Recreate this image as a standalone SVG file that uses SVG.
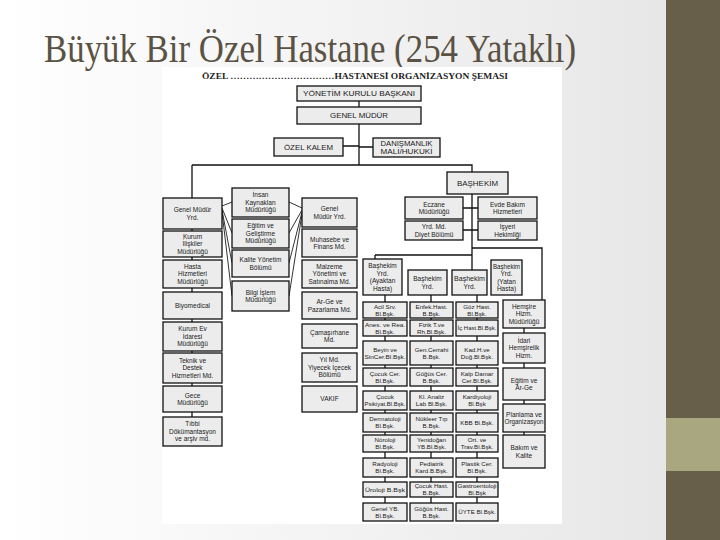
<svg xmlns="http://www.w3.org/2000/svg" width="720" height="540" viewBox="0 0 720 540">
<defs>
<linearGradient id="bg" x1="0" y1="0" x2="1" y2="0">
<stop offset="0" stop-color="#ffffff"/>
<stop offset="1" stop-color="#e7e7e7"/>
</linearGradient>
<style>
.b{fill:#ececec;stroke:#111;stroke-width:1.3}
.t{font-family:"Liberation Sans",Arial,sans-serif;font-size:6.5px;fill:#1a1a1a;text-anchor:middle}
.g{font-size:6.2px}
.c{fill:none;stroke:#111;stroke-width:1.3}
.f{fill:none;stroke:#1c1c1c;stroke-width:0.9}
</style>
</defs>
<rect x="0" y="0" width="666" height="540" fill="url(#bg)"/>
<rect x="666" y="0" width="54" height="540" fill="#675f49"/>
<rect x="666" y="418" width="54" height="53" fill="#a9a77f"/>
<text x="44" y="62" font-family="Liberation Serif, serif" font-size="41" fill="#5a5244" textLength="532" lengthAdjust="spacingAndGlyphs">Büyük Bir Özel Hastane (254 Yataklı)</text>
<rect x="162" y="67" width="400" height="457" fill="#ffffff"/>
<text x="355" y="79" font-family="Liberation Serif, serif" font-size="7.5" font-weight="bold" fill="#222" text-anchor="middle" textLength="306" lengthAdjust="spacingAndGlyphs">ÖZEL ……………………………HASTANESİ ORGANİZASYON ŞEMASI</text>

<g id="connectors">
<path class="c" d="M359,101V107 M359,124V165 M343,146H359 M359,147H373 M192,165H472V172 M192,165V417 M472,194V270 M375,255H472 M375,255V259 M472,248H542V300 M463,208H478 M463,230H478 M385,295V503 M431,295V503 M477,295V503 M524,300V435"/>
<path class="f" d="M222,206L232,202 M222,208L232,233 M222,210L232,263 M222,212L232,296 M302,208L289,202 M302,210L289,233 M302,212L289,263 M302,214L289,296"/>
</g>

<g id="n-ykb"><rect class="b" x="297" y="86" width="124" height="15"/><text class="t" x="359" y="96" textLength="112" lengthAdjust="spacingAndGlyphs">YÖNETİM KURULU BAŞKANI</text></g>
<g id="n-gm"><rect class="b" x="297" y="107" width="124" height="17"/><text class="t" x="359" y="118" textLength="58" lengthAdjust="spacingAndGlyphs">GENEL MÜDÜR</text></g>
<g id="n-ozk"><rect class="b" x="274" y="138" width="69" height="18"/><text class="t" x="308.5" y="149.5" textLength="49" lengthAdjust="spacingAndGlyphs">ÖZEL KALEM</text></g>
<g id="n-dan"><rect class="b" x="373" y="138" width="67" height="19"/><text class="t" x="406.5" y="145.5" textLength="52" lengthAdjust="spacingAndGlyphs">DANIŞMANLIK</text><text class="t" x="406.5" y="153.5" textLength="52" lengthAdjust="spacingAndGlyphs">MALİ/HUKUKİ</text></g>
<g id="n-bas"><rect class="b" x="447" y="172" width="61" height="22"/><text class="t" x="477.5" y="185.5" textLength="41" lengthAdjust="spacingAndGlyphs">BAŞHEKİM</text></g>

<g id="n-gmy1"><rect class="b" x="163" y="198" width="59" height="31"/><text class="t" x="192.5" y="212">Genel Müdür</text><text class="t" x="192.5" y="219.5">Yrd.</text></g>
<g id="n-kil"><rect class="b" x="163" y="231" width="59" height="26"/><text class="t" x="192.5" y="238.8">Kurum</text><text class="t" x="192.5" y="246.3">İlişkiler</text><text class="t" x="192.5" y="253.8">Müdürlüğü</text></g>
<g id="n-hhm"><rect class="b" x="163" y="260" width="59" height="28"/><text class="t" x="192.5" y="268.8">Hasta</text><text class="t" x="192.5" y="276.3">Hizmetleri</text><text class="t" x="192.5" y="283.8">Müdürlüğü</text></g>
<g id="n-biyo"><rect class="b" x="163" y="292" width="59" height="27"/><text class="t" x="192.5" y="307.8">Biyomedical</text></g>
<g id="n-kev"><rect class="b" x="163" y="322" width="59" height="29"/><text class="t" x="192.5" y="331.3">Kurum Ev</text><text class="t" x="192.5" y="338.8">İdaresi</text><text class="t" x="192.5" y="346.3">Müdürlüğü</text></g>
<g id="n-tdh"><rect class="b" x="163" y="353" width="59" height="30"/><text class="t" x="192.5" y="362.8">Teknik ve</text><text class="t" x="192.5" y="370.3">Destek</text><text class="t" x="192.5" y="377.8">Hizmetleri Md.</text></g>
<g id="n-gece"><rect class="b" x="163" y="386" width="59" height="26"/><text class="t" x="192.5" y="397.5">Gece</text><text class="t" x="192.5" y="405">Müdürlüğü</text></g>
<g id="n-tibbi"><rect class="b" x="163" y="417" width="59" height="29"/><text class="t" x="192.5" y="426.3">Tıbbi</text><text class="t" x="192.5" y="433.8">Dökümantasyon</text><text class="t" x="192.5" y="441.3">ve arşiv md.</text></g>

<g id="n-ik"><rect class="b" x="232" y="188" width="57" height="29"/><text class="t" x="260.5" y="197.3">İnsan</text><text class="t" x="260.5" y="204.8">Kaynakları</text><text class="t" x="260.5" y="212.3">Müdürlüğü</text></g>
<g id="n-egm"><rect class="b" x="232" y="219" width="57" height="29"/><text class="t" x="260.5" y="228.3">Eğitim ve</text><text class="t" x="260.5" y="235.8">Geliştirme</text><text class="t" x="260.5" y="243.3">Müdürlüğü</text></g>
<g id="n-kal"><rect class="b" x="232" y="250" width="57" height="27"/><text class="t" x="260.5" y="262">Kalite Yönetim</text><text class="t" x="260.5" y="269.5">Bölümü</text></g>
<g id="n-bil"><rect class="b" x="232" y="281" width="57" height="30"/><text class="t" x="260.5" y="294.5">Bilgi İşlem</text><text class="t" x="260.5" y="302">Müdürlüğü</text></g>

<g id="n-gmy2"><rect class="b" x="302" y="198" width="55" height="29"/><text class="t" x="329.5" y="211">Genel</text><text class="t" x="329.5" y="218.5">Müdür Yrd.</text></g>
<g id="n-muh"><rect class="b" x="302" y="229" width="55" height="28"/><text class="t" x="329.5" y="241.5">Muhasebe ve</text><text class="t" x="329.5" y="249">Finans Md.</text></g>
<g id="n-mal"><rect class="b" x="302" y="260" width="55" height="28"/><text class="t" x="329.5" y="268.8">Malzeme</text><text class="t" x="329.5" y="276.3">Yönetimi ve</text><text class="t" x="329.5" y="283.8">Satınalma Md.</text></g>
<g id="n-arge"><rect class="b" x="302" y="292" width="55" height="27"/><text class="t" x="329.5" y="304">Ar-Ge ve</text><text class="t" x="329.5" y="311.5">Pazarlama Md.</text></g>
<g id="n-cam"><rect class="b" x="302" y="324" width="55" height="24"/><text class="t" x="329.5" y="334.5">Çamaşırhane</text><text class="t" x="329.5" y="342">Md.</text></g>
<g id="n-yiy"><rect class="b" x="302" y="353" width="55" height="29"/><text class="t" x="329.5" y="362.3">Yıl Md.</text><text class="t" x="329.5" y="369.8">Yiyecek İçecek</text><text class="t" x="329.5" y="377.3">Bölümü</text></g>
<g id="n-vak"><rect class="b" x="302" y="386" width="55" height="26"/><text class="t" x="329.5" y="401.3">VAKIF</text></g>

<g id="n-ecz"><rect class="b" x="405" y="197" width="58" height="22"/><text class="t" x="434" y="206.5">Eczane</text><text class="t" x="434" y="214">Müdürlüğü</text></g>
<g id="n-evde"><rect class="b" x="478" y="197" width="59" height="22"/><text class="t" x="507.5" y="206.5">Evde Bakım</text><text class="t" x="507.5" y="214">Hizmetleri</text></g>
<g id="n-diy"><rect class="b" x="405" y="221" width="58" height="19"/><text class="t" x="434" y="229">Yrd. Md.</text><text class="t" x="434" y="236.5">Diyet Bölümü</text></g>
<g id="n-isy"><rect class="b" x="478" y="221" width="59" height="19"/><text class="t" x="507.5" y="229">İşyeri</text><text class="t" x="507.5" y="236.5">Hekimliği</text></g>

<g id="n-by1"><rect class="b" x="363" y="259" width="39" height="36"/><text class="t" x="382.5" y="268">Başhekim</text><text class="t" x="382.5" y="275.5">Yrd.</text><text class="t" x="382.5" y="283">(Ayaktan</text><text class="t" x="382.5" y="290.5">Hasta)</text></g>
<g id="n-by2"><rect class="b" x="408" y="270" width="39" height="25"/><text class="t" x="427.5" y="281">Başhekim</text><text class="t" x="427.5" y="288.5">Yrd.</text></g>
<g id="n-by3"><rect class="b" x="452" y="270" width="35" height="25"/><text class="t" x="469.5" y="281" textLength="31" lengthAdjust="spacingAndGlyphs">Başhekim</text><text class="t" x="469.5" y="288.5">Yrd.</text></g>
<g id="n-by4"><rect class="b" x="491" y="260" width="31" height="35"/><text class="t" x="506.5" y="268.5" textLength="27" lengthAdjust="spacingAndGlyphs">Başhekim</text><text class="t" x="506.5" y="276">Yrd.</text><text class="t" x="506.5" y="283.5">(Yatan</text><text class="t" x="506.5" y="291">Hasta)</text></g>

<g id="n-r1c1"><rect class="b" x="363" y="302" width="44" height="16"/><text class="t g" x="385" y="308.8">Acil Srv.</text><text class="t g" x="385" y="315.8">Bl.Bşk.</text></g>
<g id="n-r1c2"><rect class="b" x="410" y="302" width="43" height="16"/><text class="t g" x="431.5" y="308.8">Enfek.Hast.</text><text class="t g" x="431.5" y="315.8">B.Bşk.</text></g>
<g id="n-r1c3"><rect class="b" x="456" y="302" width="42" height="16"/><text class="t g" x="477" y="308.8">Göz Hast.</text><text class="t g" x="477" y="315.8">Bl.Bşk.</text></g>
<g id="n-r2c1"><rect class="b" x="363" y="320" width="44" height="16"/><text class="t g" x="385" y="326.8" textLength="40" lengthAdjust="spacingAndGlyphs">Anes. ve Rea.</text><text class="t g" x="385" y="333.8">Bl.Bşk.</text></g>
<g id="n-r2c2"><rect class="b" x="410" y="320" width="43" height="16"/><text class="t g" x="431.5" y="326.8">Fizik T.ve</text><text class="t g" x="431.5" y="333.8">Rh.Bl.Bşk.</text></g>
<g id="n-r2c3"><rect class="b" x="456" y="320" width="42" height="16"/><text class="t g" x="477" y="330.3" textLength="39" lengthAdjust="spacingAndGlyphs">İç Hast.Bl.Bşk.</text></g>
<g id="n-r3c1"><rect class="b" x="363" y="341" width="44" height="24"/><text class="t g" x="385" y="351.8">Beyin ve</text><text class="t g" x="385" y="358.8" textLength="41" lengthAdjust="spacingAndGlyphs">SinCer.Bl.Bşk.</text></g>
<g id="n-r3c2"><rect class="b" x="410" y="341" width="43" height="24"/><text class="t g" x="431.5" y="351.8">Gen.Cerrahi</text><text class="t g" x="431.5" y="358.8">B.Bşk.</text></g>
<g id="n-r3c3"><rect class="b" x="456" y="341" width="42" height="24"/><text class="t g" x="477" y="351.8">Kad.H.ve</text><text class="t g" x="477" y="358.8">Doğ.Bl.Bşk.</text></g>
<g id="n-r4c1"><rect class="b" x="363" y="368" width="44" height="18"/><text class="t g" x="385" y="375.8">Çocuk Cer.</text><text class="t g" x="385" y="382.8">Bl.Bşk.</text></g>
<g id="n-r4c2"><rect class="b" x="410" y="368" width="43" height="18"/><text class="t g" x="431.5" y="375.8">Göğüs Cer.</text><text class="t g" x="431.5" y="382.8">B.Bşk.</text></g>
<g id="n-r4c3"><rect class="b" x="456" y="368" width="42" height="18"/><text class="t g" x="477" y="375.8">Kalp Damar</text><text class="t g" x="477" y="382.8">Cer.Bl.Bşk.</text></g>
<g id="n-r5c1"><rect class="b" x="363" y="391" width="44" height="19"/><text class="t g" x="385" y="399.3">Çocuk</text><text class="t g" x="385" y="406.3" textLength="41" lengthAdjust="spacingAndGlyphs">Psikiyat.Bl.Bşk.</text></g>
<g id="n-r5c2"><rect class="b" x="410" y="391" width="43" height="19"/><text class="t g" x="431.5" y="399.3">Kl. Analiz</text><text class="t g" x="431.5" y="406.3">Lab Bl.Bşk.</text></g>
<g id="n-r5c3"><rect class="b" x="456" y="391" width="42" height="19"/><text class="t g" x="477" y="399.3">Kardiyoloji</text><text class="t g" x="477" y="406.3">Bl.Bşk</text></g>
<g id="n-r6c1"><rect class="b" x="363" y="413" width="44" height="19"/><text class="t g" x="385" y="421.3">Dermatoloji</text><text class="t g" x="385" y="428.3">Bl.Bşk.</text></g>
<g id="n-r6c2"><rect class="b" x="410" y="413" width="43" height="19"/><text class="t g" x="431.5" y="421.3">Nükleer Tıp</text><text class="t g" x="431.5" y="428.3">B.Bşk.</text></g>
<g id="n-r6c3"><rect class="b" x="456" y="413" width="42" height="19"/><text class="t g" x="477" y="424.8">KBB Bl.Bşk.</text></g>
<g id="n-r7c1"><rect class="b" x="363" y="435" width="44" height="17"/><text class="t g" x="385" y="442.3">Nöroloji</text><text class="t g" x="385" y="449.3">Bl.Bşk.</text></g>
<g id="n-r7c2"><rect class="b" x="410" y="435" width="43" height="17"/><text class="t g" x="431.5" y="442.3">Yenidoğan</text><text class="t g" x="431.5" y="449.3">YB.Bl.Bşk.</text></g>
<g id="n-r7c3"><rect class="b" x="456" y="435" width="42" height="17"/><text class="t g" x="477" y="442.3">Ort. ve</text><text class="t g" x="477" y="449.3">Trav.Bl.Bşk.</text></g>
<g id="n-r8c1"><rect class="b" x="363" y="458" width="44" height="19"/><text class="t g" x="385" y="466.3">Radyoloji</text><text class="t g" x="385" y="473.3">Bl.Bşk.</text></g>
<g id="n-r8c2"><rect class="b" x="410" y="458" width="43" height="19"/><text class="t g" x="431.5" y="466.3">Pediatrik</text><text class="t g" x="431.5" y="473.3">Kard.B.Bşk.</text></g>
<g id="n-r8c3"><rect class="b" x="456" y="458" width="42" height="19"/><text class="t g" x="477" y="466.3">Plastik Cer.</text><text class="t g" x="477" y="473.3">Bl.Bşk.</text></g>
<g id="n-r9c1"><rect class="b" x="363" y="482" width="44" height="15"/><text class="t g" x="385" y="491.8" textLength="40" lengthAdjust="spacingAndGlyphs">Üroloji B.Bşk</text></g>
<g id="n-r9c2"><rect class="b" x="410" y="482" width="43" height="15"/><text class="t g" x="431.5" y="488.3">Çocuk Hast.</text><text class="t g" x="431.5" y="495.3">B.Bşk.</text></g>
<g id="n-r9c3"><rect class="b" x="456" y="482" width="42" height="15"/><text class="t g" x="477" y="488.3" textLength="39" lengthAdjust="spacingAndGlyphs">Gastroentoloji</text><text class="t g" x="477" y="495.3">Bl.Bşk</text></g>
<g id="n-r10c1"><rect class="b" x="363" y="503" width="44" height="18"/><text class="t g" x="385" y="510.8">Genel YB.</text><text class="t g" x="385" y="517.8">Bl.Bşk.</text></g>
<g id="n-r10c2"><rect class="b" x="410" y="503" width="43" height="18"/><text class="t g" x="431.5" y="510.8">Göğüs Hast.</text><text class="t g" x="431.5" y="517.8">B.Bşk.</text></g>
<g id="n-r10c3"><rect class="b" x="456" y="503" width="42" height="18"/><text class="t g" x="477" y="514.3">ÜYTE Bl.Bşk.</text></g>

<g id="n-hem"><rect class="b" x="503" y="300" width="42" height="28"/><text class="t" x="524" y="308.8">Hemşire</text><text class="t" x="524" y="316.3">Hizm.</text><text class="t" x="524" y="323.8">Müdürlüğü</text></g>
<g id="n-idh"><rect class="b" x="503" y="333" width="42" height="30"/><text class="t" x="524" y="342.8">İdari</text><text class="t" x="524" y="350.3">Hemşirelik</text><text class="t" x="524" y="357.8">Hizm.</text></g>
<g id="n-ear"><rect class="b" x="503" y="368" width="42" height="32"/><text class="t" x="524" y="382.5">Eğitim ve</text><text class="t" x="524" y="390">Ar-Ge</text></g>
<g id="n-plo"><rect class="b" x="503" y="404" width="42" height="28"/><text class="t" x="524" y="416.5">Planlama ve</text><text class="t" x="524" y="424" textLength="39" lengthAdjust="spacingAndGlyphs">Organizasyon</text></g>
<g id="n-bak"><rect class="b" x="503" y="435" width="42" height="33"/><text class="t" x="524" y="450">Bakım ve</text><text class="t" x="524" y="457.5">Kalite</text></g>
</svg>
